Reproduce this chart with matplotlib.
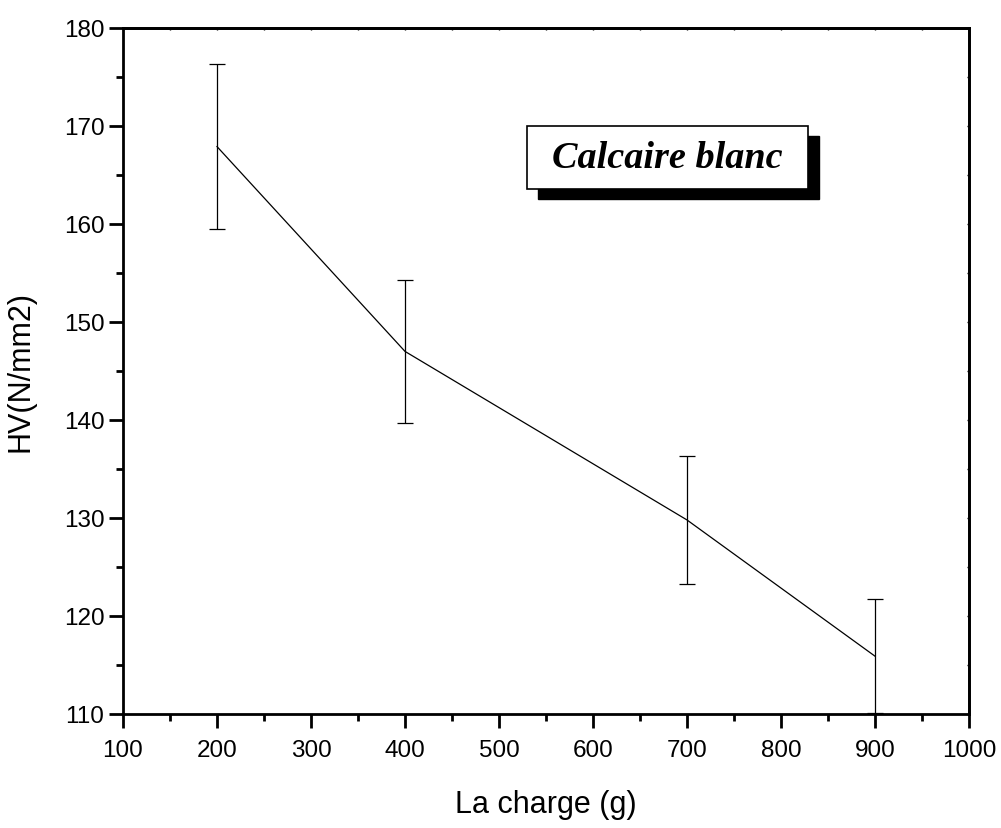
import matplotlib.pyplot as plt
from matplotlib.patches import Rectangle
from matplotlib.ticker import MultipleLocator

# values
charge = [200, 400, 700, 900]
hv = [167.9, 147.0, 129.8, 115.9]
hv_err = [8.4, 7.3, 6.5, 5.8]

plt.rcParams['font.family'] = ['Liberation Sans', 'DejaVu Sans']

fig = plt.figure(figsize=(10.01, 8.29), dpi=100)
ax = fig.add_axes([123 / 1001, 1 - 715 / 829, 846 / 1001, 686 / 829])

ax.errorbar(charge, hv, yerr=hv_err, color='black', linewidth=0.9,
            elinewidth=0.9, capsize=6, capthick=0.9)

ax.set_xlim(100, 1000)
ax.set_ylim(110, 180)
ax.xaxis.set_major_locator(MultipleLocator(100))
ax.xaxis.set_minor_locator(MultipleLocator(50))
ax.yaxis.set_major_locator(MultipleLocator(10))
ax.yaxis.set_minor_locator(MultipleLocator(5))

for s in ax.spines.values():
    s.set_linewidth(2)
ax.tick_params(which='major', direction='out', length=10, width=2, labelsize=17.5)
ax.tick_params(axis='x', which='major', pad=8)
ax.tick_params(which='minor', direction='out', length=5, width=2)
ax.tick_params(top=False, right=False, which='both')
# tiny inner ticks on top / right
ax2 = ax.secondary_xaxis('top')
ax2.xaxis.set_major_locator(MultipleLocator(50))
ax2.tick_params(direction='in', length=1.5, width=1, labeltop=False)
ay2 = ax.secondary_yaxis('right')
ay2.yaxis.set_major_locator(MultipleLocator(5))
ay2.tick_params(direction='in', length=1.5, width=1, labelright=False)
ax2.spines['top'].set_linewidth(2)
ay2.spines['right'].set_linewidth(2)

ax.set_xlabel('La charge (g)', fontsize=22, labelpad=20)
ax.set_ylabel('HV(N/mm2)', fontsize=22, labelpad=20)

# label box with drop shadow
bx, by, bw, bh = 527 / 1001, 1 - 190 / 829, 281 / 1001, 63 / 829
off_x, off_y = 11 / 1001, 10 / 829
fig.patches.append(Rectangle((bx + off_x, by - off_y), bw, bh, transform=fig.transFigure,
                             facecolor='black', edgecolor='black', zorder=5))
fig.patches.append(Rectangle((bx, by), bw, bh, transform=fig.transFigure,
                             facecolor='white', edgecolor='black', linewidth=1.2, zorder=6))
fig.text(bx + bw / 2, by + bh / 2, 'Calcaire blanc', family=['Liberation Serif', 'DejaVu Serif'],
         fontsize=27.5, fontweight='bold', style='italic', ha='center', va='center', zorder=7)

fig.savefig('out.png', dpi=100)
